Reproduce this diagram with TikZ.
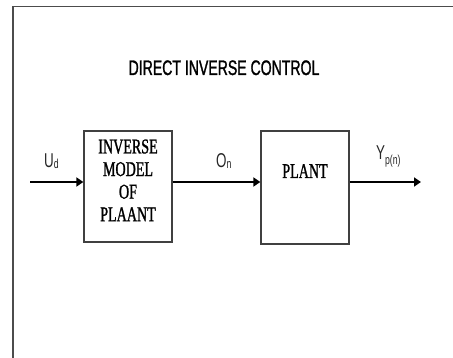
\documentclass[tikz,border=0pt]{standalone}
\usepackage{fontspec}
\setmainfont{Liberation Serif}[FakeStretch=0.67,FakeBold=1.2]
\newfontfamily\arialn{Liberation Sans}[FakeStretch=0.67]
\newfontfamily\arialnb{Liberation Sans}[FakeStretch=0.67,FakeBold=1.2]
\usetikzlibrary{arrows.meta}
\begin{document}
\begin{tikzpicture}[x=1pt,y=-1pt,
  frame/.style={draw=black!70, line width=1.3pt},
  blk/.style={draw=black!75, line width=1.3pt, rectangle, inner sep=0pt},
  boxtxt/.style={font=\fontsize{21}{22.6}\selectfont, align=center, inner sep=0pt},
  lbl/.style={font=\arialn\fontsize{20}{22}\selectfont, inner sep=0pt, text=black!85},
  ttl/.style={font=\arialnb\fontsize{21}{22}\selectfont, inner sep=0pt},
  arr/.style={line width=2.3pt, -{Triangle[length=7pt,width=9pt]}}]
\useasboundingbox (0,0) rectangle (453,358);
\draw[frame] (13,358) -- (13,6.5) -- (453,6.5);
\node[ttl, anchor=base] (title) at (224,75) {DIRECT INVERSE CONTROL};
\node[blk, minimum width=88pt, minimum height=111pt] (inv) at (128,186.5) {};
\node[boxtxt, anchor=north] (invtxt) at (128,139.3) {INVERSE\\MODEL\\OF\\PLAANT};
\node[blk, minimum width=88pt, minimum height=113pt] (plant) at (305,187.5) {};
\node[boxtxt, anchor=base] (planttxt) at (305,178) {PLANT};
\coordinate (in) at (30,182);
\coordinate (out) at (421,182);
\draw[arr] (in) -- (in -| inv.west);
\draw[arr] (inv.east |- in) -- (plant.west |- in);
\draw[arr] (plant.east |- in) -- (out);
\node[lbl, anchor=base west] (ud) at (44,168) {U\raisebox{-1pt}{\fontsize{13}{13}\selectfont d}};
\node[lbl, anchor=base west] (on) at (216,168) {O\raisebox{-1pt}{\fontsize{13}{13}\selectfont n}};
\node[lbl, anchor=base west] (yp) at (376,160) {Y\raisebox{-5pt}{\fontsize{13}{13}\selectfont p(n)}};
\end{tikzpicture}
\end{document}
